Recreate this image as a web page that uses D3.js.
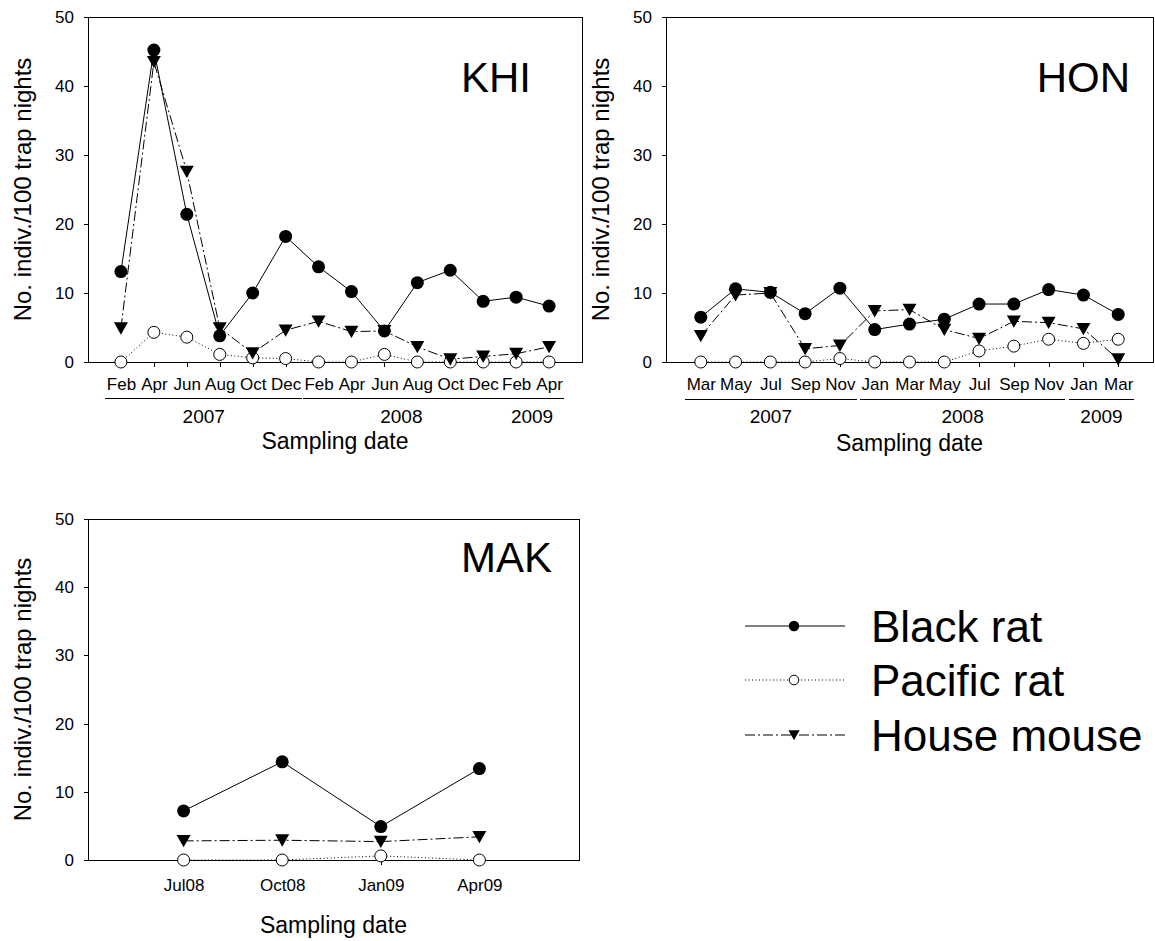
<!DOCTYPE html>
<html>
<head>
<meta charset="utf-8">
<script src="https://cdn.jsdelivr.net/npm/d3@7"></script>
<style>
  body { margin: 0; background: #fff; }
  svg { display: block; }
  text { font-family: "Liberation Sans", Arial, Helvetica, sans-serif; fill: #000; }
</style>
</head>
<body>
<svg id="chart" width="1155" height="941"></svg>
<script>
// ---- Data: individuals captured per 100 trap nights ----
const speciesNames = ["Black rat", "Pacific rat", "House mouse"];

// KHI: bimonthly, Feb 2007 – Apr 2009
const khiMonths  = ["Feb","Apr","Jun","Aug","Oct","Dec","Feb","Apr","Jun","Aug","Oct","Dec","Feb","Apr"];
const khiYears   = [["2007", 0, 5], ["2008", 6, 11], ["2009", 12, 13]];
const khiBlack   = [13.1, 45.2, 21.4, 3.8, 10.0, 18.2, 13.8, 10.2, 4.5, 11.5, 13.3, 8.8, 9.4, 8.1];
const khiPacific = [0, 4.3, 3.6, 1.1, 0.6, 0.5, 0, 0, 1.1, 0, 0, 0, 0, 0];
const khiMouse   = [4.9, 43.5, 27.6, 4.9, 1.3, 4.6, 5.9, 4.4, 4.5, 2.2, 0.4, 0.8, 1.2, 2.2];

// HON: bimonthly, Mar 2007 – Mar 2009
const honMonths  = ["Mar","May","Jul","Sep","Nov","Jan","Mar","May","Jul","Sep","Nov","Jan","Mar"];
const honYears   = [["2007", 0, 4], ["2008", 5, 10], ["2009", 11, 12]];
const honBlack   = [6.5, 10.6, 10.1, 7.0, 10.7, 4.7, 5.5, 6.2, 8.4, 8.4, 10.5, 9.7, 6.9];
const honPacific = [0, 0, 0, 0, 0.5, 0, 0, 0, 1.6, 2.3, 3.3, 2.7, 3.3];
const honMouse   = [3.8, 9.7, 10.0, 1.9, 2.4, 7.4, 7.6, 4.7, 3.4, 5.9, 5.7, 4.8, 0.4];

// MAK: quarterly, Jul 2008 – Apr 2009
const makLabels  = ["Jul08","Oct08","Jan09","Apr09"];
const makBlack   = [7.2, 14.4, 4.9, 13.4];
const makPacific = [0, 0, 0.6, 0];
const makMouse   = [2.8, 2.9, 2.7, 3.4];

const yTicks = [0, 10, 20, 30, 40, 50];

// ---- Layout ----
const svg = d3.select("#chart");
const FONT_TICK = 17, FONT_MONTH = 17, FONT_YEAR = 19, FONT_TITLE = 23, FONT_YTITLE = 24, FONT_SITE = 42;

const panels = [
  { site: "KHI", labels: khiMonths, years: khiYears, values: [khiBlack, khiPacific, khiMouse],
    x0: 88, x1: 582, xr: [88, 582], y0: 17, y1: 362, yTitleX: 31, yearLineY: 398, yearY: 423, xTitleY: 449, siteX: 531, siteY: 92 },
  { site: "HON", labels: honMonths, years: honYears, values: [honBlack, honPacific, honMouse],
    x0: 666, x1: 1153, xr: [666, 1153], y0: 17, y1: 362, yTitleX: 609, yearLineY: 399, yearY: 423, xTitleY: 451, siteX: 1130, siteY: 92 },
  { site: "MAK", labels: makLabels, years: null, values: [makBlack, makPacific, makMouse],
    x0: 88, x1: 579, xr: [85, 578], y0: 519, y1: 860, yTitleX: 31, yearLineY: null, yearY: null, xTitleY: 933, siteX: 552, siteY: 572 }
];

// Line styles for the three species
const lineStyle = [
  { dash: null,       width: 1 },
  { dash: "1,2.5",    width: 1 },
  { dash: "10,3,2,3", width: 1 }
];
const triPath = s => `M${-s * 0.5},${-s * 0.42}L${s * 0.5},${-s * 0.42}L0,${s * 0.46}Z`;

function drawMarker(g, k, cx, cy, scale) {
  if (k === 0) {
    g.append("circle").attr("cx", cx).attr("cy", cy).attr("r", 6.5 * scale).attr("fill", "#000");
  } else if (k === 1) {
    g.append("circle").attr("cx", cx).attr("cy", cy).attr("r", 6 * scale)
      .attr("fill", "#fff").attr("stroke", "#000").attr("stroke-width", 1);
  } else {
    g.append("path").attr("d", triPath(14 * scale)).attr("transform", `translate(${cx},${cy})`).attr("fill", "#000");
  }
}

panels.forEach(p => {
  const idx = d3.range(p.labels.length);
  const x = d3.scalePoint().domain(idx).range(p.xr).padding(1);
  const y = d3.scaleLinear().domain([0, 50]).range([p.y1, p.y0]);
  const g = svg.append("g");

  // frame
  g.append("rect").attr("x", p.x0).attr("y", p.y0).attr("width", p.x1 - p.x0).attr("height", p.y1 - p.y0)
    .attr("fill", "none").attr("stroke", "#000").attr("stroke-width", 1).attr("shape-rendering", "crispEdges");

  // y axis
  const ya = g.append("g").attr("transform", `translate(${p.x0},0)`)
    .call(d3.axisLeft(y).tickValues(yTicks).tickSize(4).tickPadding(10).tickFormat(d3.format("d")));
  ya.select(".domain").remove();
  ya.selectAll("line").attr("shape-rendering", "crispEdges");
  ya.selectAll("text").style("font-size", FONT_TICK + "px").attr("fill", "#000");

  // x axis
  const xa = g.append("g").attr("transform", `translate(0,${p.y1})`)
    .call(d3.axisBottom(x).tickSize(5).tickPadding(p.years ? 11 : 14).tickFormat(i => p.labels[i]));
  xa.select(".domain").remove();
  xa.selectAll("line").attr("shape-rendering", "crispEdges");
  xa.selectAll("text").style("font-size", (p.years ? FONT_MONTH : FONT_TICK) + "px").attr("fill", "#000");

  // year brackets under the month labels
  if (p.years) {
    const texts = xa.selectAll(".tick text").nodes();
    p.years.forEach(([label, a, b]) => {
      const ba = texts[a].getBBox(), bb = texts[b].getBBox();
      const left = x(a) + ba.x - 1, right = x(b) + bb.x + bb.width + 1;
      g.append("line").attr("x1", left).attr("x2", right)
        .attr("y1", p.yearLineY).attr("y2", p.yearLineY)
        .attr("stroke", "#000").attr("stroke-width", 1).attr("shape-rendering", "crispEdges");
      g.append("text").attr("x", (left + right) / 2).attr("y", p.yearY)
        .attr("text-anchor", "middle").style("font-size", FONT_YEAR + "px").text(label);
    });
  }

  // axis titles
  g.append("text").attr("x", (p.x0 + p.x1) / 2).attr("y", p.xTitleY).attr("text-anchor", "middle")
    .style("font-size", FONT_TITLE + "px").text("Sampling date");
  g.append("text")
    .attr("transform", `translate(${p.yTitleX},${(p.y0 + p.y1) / 2}) rotate(-90)`)
    .attr("text-anchor", "middle").style("font-size", FONT_YTITLE + "px").text("No. indiv./100 trap nights");

  // site name
  g.append("text").attr("x", p.siteX).attr("y", p.siteY).attr("text-anchor", "end")
    .style("font-size", FONT_SITE + "px").text(p.site);

  // series lines
  p.values.forEach((vals, k) => {
    const line = d3.line().x((d, i) => x(i)).y(d => y(d));
    g.append("path").datum(vals).attr("d", line).attr("fill", "none")
      .attr("stroke", "#000").attr("stroke-width", lineStyle[k].width)
      .attr("stroke-dasharray", lineStyle[k].dash);
  });
  // series markers
  p.values.forEach((vals, k) => {
    vals.forEach((v, i) => drawMarker(g, k, x(i), y(v), 1));
  });
});

// ---- Legend ----
const legend = svg.append("g");
const legendY = [626, 680, 735];
speciesNames.forEach((name, k) => {
  const ly = legendY[k];
  legend.append("line").attr("x1", 745).attr("x2", 845).attr("y1", ly).attr("y2", ly)
    .attr("stroke", "#000").attr("stroke-width", 1).attr("stroke-dasharray", lineStyle[k].dash);
  drawMarker(legend, k, 794, ly, 0.8);
  legend.append("text").attr("x", 871).attr("y", ly + 16).style("font-size", "44px").text(name);
});
</script>
</body>
</html>
